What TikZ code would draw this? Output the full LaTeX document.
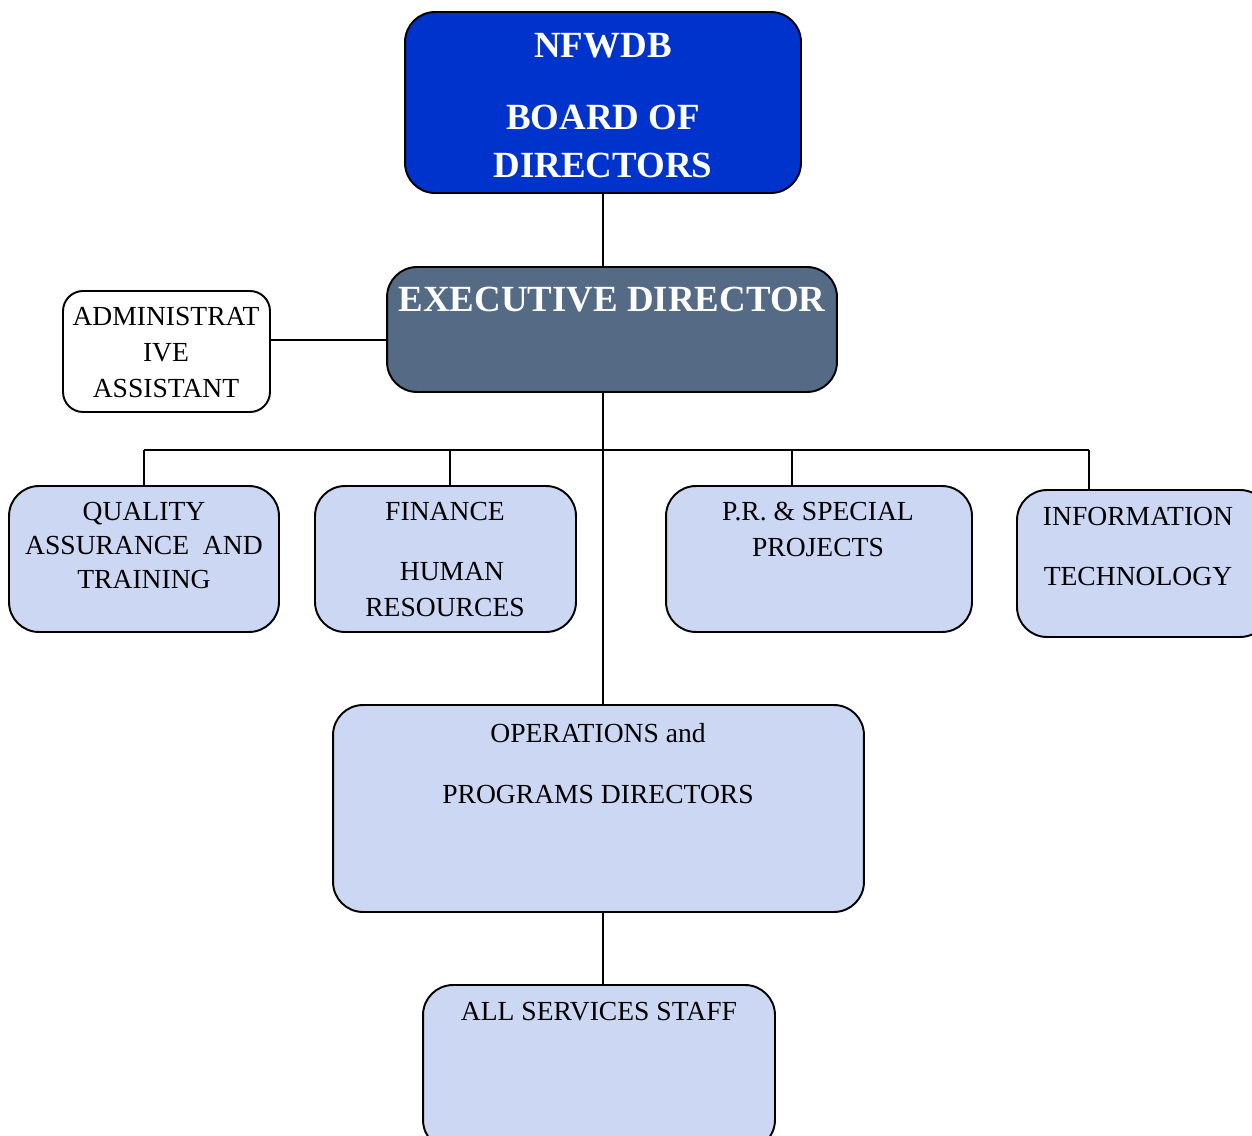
\documentclass[tikz,border=0pt]{standalone}
\usepackage{fontspec}
\setmainfont{Liberation Serif}
\definecolor{boardblue}{RGB}{0,51,204}
\definecolor{execslate}{RGB}{84,106,133}
\definecolor{lightblue}{RGB}{204,216,243}
\tikzset{
  orgbox/.style={draw=black, line width=1.1pt, rounded corners=0.6cm, rectangle, inner sep=0pt},
  conn/.style={draw=black, line width=1.1pt},
  txt/.style={inner sep=0pt, anchor=base, font=\fontsize{15.7}{18}\selectfont, text=black},
  bigtxt/.style={inner sep=0pt, anchor=base, font=\fontsize{21}{24}\selectfont\bfseries, text=white}
}
\begin{document}
\begin{tikzpicture}[x=0.02cm,y=-0.02cm]
\useasboundingbox (0,0) rectangle (1252,1136);
\clip (0,0) rectangle (1252,1136);
% boxes
\node[orgbox, fill=boardblue, minimum width=7.92cm, minimum height=3.62cm] (board) at (603,102.5) {};
\node[orgbox, fill=execslate, minimum width=9.0cm, minimum height=2.5cm] (exec) at (612,329.5) {};
\node[orgbox, fill=white, rounded corners=0.4cm, minimum width=4.14cm, minimum height=2.42cm] (admin) at (166.5,351.5) {};
\node[orgbox, fill=lightblue, minimum width=5.4cm, minimum height=2.92cm] (qa) at (144,559) {};
\node[orgbox, fill=lightblue, minimum width=5.22cm, minimum height=2.92cm] (fin) at (445.5,559) {};
\node[orgbox, fill=lightblue, minimum width=6.12cm, minimum height=2.92cm] (pr) at (819,559) {};
\node[orgbox, fill=lightblue, minimum width=5.06cm, minimum height=2.94cm] (it) at (1143.5,563.5) {};
\node[orgbox, fill=lightblue, minimum width=10.62cm, minimum height=4.14cm] (ops) at (598.5,808.5) {};
\node[orgbox, fill=lightblue, minimum width=7.04cm, minimum height=3.3cm] (staff) at (599,1067.5) {};
% connectors
\draw[conn] (board.south) -- (board.south |- exec.north);
\path (admin.east) ++(0,-11.5) coordinate (a1);
\draw[conn] (a1) -- (a1 -| exec.west);
\draw[conn] (board.south |- exec.south) -- (board.south |- ops.north);
\coordinate (d1) at (144,450);
\coordinate (d2) at (450,450);
\coordinate (d3) at (792,450);
\coordinate (d4) at (1089,450);
\draw[conn] (d1) -- (d4);
\draw[conn] (d1) -- (d1 |- qa.north);
\draw[conn] (d2) -- (d2 |- fin.north);
\draw[conn] (d3) -- (d3 |- pr.north);
\draw[conn] (d4) -- (d4 |- it.north);
\draw[conn] (board.south |- ops.south) -- (board.south |- staff.north);
% texts
\node[bigtxt] (t1) at (603,57) {NFWDB};
\node[bigtxt] (t2) at (603,129) {BOARD OF};
\node[bigtxt] (t3) at (603,177) {DIRECTORS};
\node[bigtxt] (t4) at (612,311) {EXECUTIVE DIRECTOR};
\node[txt] (t5) at (166,325) {ADMINISTRAT};
\node[txt] (t6) at (166,361) {IVE};
\node[txt] (t7) at (166,397) {ASSISTANT};
\node[txt] (t8) at (144,520) {QUALITY};
\node[txt] (t9) at (144,554) {ASSURANCE\ \ AND};
\node[txt] (t10) at (144,588) {TRAINING};
\node[txt] (t11) at (445,520) {FINANCE};
\node[txt] (t12) at (452,580) {HUMAN};
\node[txt] (t13) at (445,616) {RESOURCES};
\node[txt] (t14) at (818,520) {P.R. \& SPECIAL};
\node[txt] (t15) at (818,556) {PROJECTS};
\node[txt] (t16) at (1138,525) {INFORMATION};
\node[txt] (t17) at (1138,585) {TECHNOLOGY};
\node[txt] (t18) at (598,742) {OPERATIONS and};
\node[txt] (t19) at (598,803) {PROGRAMS DIRECTORS};
\node[txt] (t20) at (599,1020) {ALL SERVICES STAFF};
\end{tikzpicture}
\end{document}
